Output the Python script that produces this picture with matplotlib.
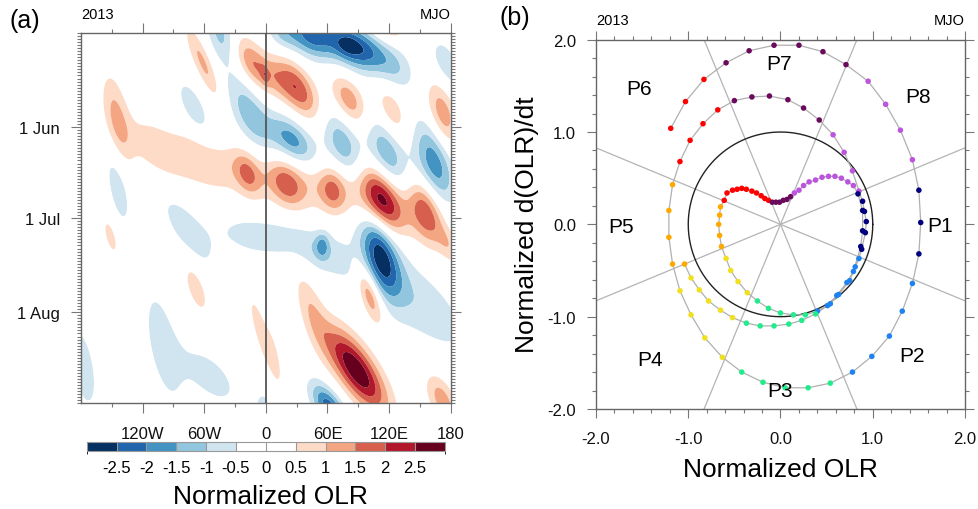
import numpy as np
import matplotlib
matplotlib.use("Agg")
import matplotlib.pyplot as plt
import matplotlib as mpl
from matplotlib.colors import ListedColormap, BoundaryNorm

plt.rcParams['font.family'] = ['Liberation Sans', 'DejaVu Sans']

# ---------------- data: Hovmoller (a) ----------------
# anomaly features: centre lon, centre day (0 = 1 May), amplitude,
# lon width, day width, tilt (days per degree)
blob_lon = [45, 90, 78, 125, 15, -44, -61, -12, 30, -1, 10, 81, 123, 172, 176, 118,
            -70, -15, 26, 75, 118, 164,
            -145, -108, -62, -18, 20, 65, 113, 156, 40,
            -144, -76, -151, -10, 50, 55, 112, 140, 178, -68, -3, 8, 101, 88, 45, 172,
            -100, -55, -178, 63, -3, -184, -184]
blob_day = [1, 5, 4, 11, 0, 0, 10, 10.5, 18, 14, 15, 22, 26, 27, 11, -1,
            25, 27, 35.5, 37, 40, 43,
            29, 38, 42, 46.5, 50, 52, 55, 59, 50,
            50, 65, 67, 67, 72, 70, 73, 86, 70, 84, 100, 106, 86, 111, 92, 121,
            103, 113, 110, 124, 122, 27, 40]
blob_amp = [-2.2, -2.4, -0.6, -0.9, -0.8, -1.2, 1.15, 1.5, 1.95, 0.6, 0.5, 1.35, 0.9, 1.45, -0.85, 0.85,
            -0.8, -1.35, -1.75, -1.4, -1.45, -1.9,
            1.2, 0.75, 0.65, 1.2, 1.25, 1.15, 2.45, 1.9, 0.8,
            -0.8, -0.8, 0.75, -0.8, -0.75, -1.1, -2.35, -0.9, 0.75, 0.8, 0.8, 0.5, 1.7, 3.0, 0.85, 1.3,
            -0.8, -0.75, -0.8, -2.4, -0.9, -0.7, 0.75]
blob_sx = [18, 18, 8, 14, 10, 10, 12, 13, 15, 3, 10, 12, 11, 11, 12, 14,
           13, 16, 16, 14, 14, 14,
           10, 20, 22, 9, 12, 9, 15, 12, 70,
           10, 20, 6, 28, 25, 5, 13, 45, 8, 9, 11, 5, 9, 21, 12, 11,
           14, 22, 11, 13, 4, 5, 5]
blob_sy = [5, 5, 3, 5, 4, 6, 4.5, 5, 5.5, 2, 4, 5, 5.5, 7.5, 6, 3,
           5.5, 7, 5, 6.5, 7, 9,
           9, 6, 6, 4.5, 5, 5, 6.5, 7, 6.5,
           9, 6, 4, 4.5, 5, 3, 8, 9, 4, 5, 5.5, 4, 5, 6.5, 7, 5,
           12, 6, 10, 4.5, 2, 3, 4]
blob_tilt = [0.10, 0.12, 0.1, 0.15, 0.1, 0.3, 0.6, 0.3, 0.28, 0.3, 0.3, 0.25, 0.3, 0.3, 0.3, 0.1,
             0.4, 0.35, 0.2, 0.3, 0.3, 0.3,
             0.55, 0.2, 0.15, 0.2, 0.15, 0.1, 0.25, 0.25, 0.08,
             0.6, 0.35, 0.5, 0.05, 0.15, 0.0, 0.35, 0.25, 0.3, 0.45, 0.85, 0.85, 0.5, 0.34, 0.6, 0.3,
             0.6, 0.2, 0.5, 0.3, 0.0, 0.0, 0.3]

levels = [-99, -2.5, -2, -1.5, -1, -0.5, 0, 0.5, 1, 1.5, 2, 2.5, 99]
fill_colors = ['#053061', '#2166ac', '#4393c3', '#92c5de', '#d1e5f0', '#ffffff',
               '#ffffff', '#fddbc7', '#f4a582', '#d6604d', '#b2182b', '#67001f']
cbar_labels = ['-2.5', '-2', '-1.5', '-1', '-0.5', '0', '0.5', '1', '1.5', '2', '2.5']
lon_ticks = [-120, -60, 0, 60, 120, 180]
lon_labels = ['120W', '60W', '0', '60E', '120E', '180']
lon_minor = [-150, -90, -30, 30, 90, 150]
date_ticks = [31, 61, 92]
date_labels = ['1 Jun', '1 Jul', '1 Aug']
n_days = 122

# ---------------- data: phase diagram (b) ----------------
olr_x = [-1.19, -1.03, -0.83, -0.59, -0.34, -0.07, 0.20, 0.46, 0.71, 0.95, 1.14, 1.30, 1.43, 1.50, 1.52,
         1.50, 1.43, 1.32, 1.18, 0.99, 0.78, 0.54, 0.30, 0.05, -0.19, -0.42, -0.63, -0.82, -0.97, -1.09,
         -1.17, -1.21, -1.21, -1.17, -1.09,
         -0.98, -0.84, -0.68, -0.50, -0.31, -0.12, 0.08, 0.25, 0.42, 0.57, 0.69, 0.78, 0.85,
         0.89, 0.91, 0.93, 0.92, 0.88, 0.85, 0.81, 0.75, 0.63, 0.54, 0.40,
         0.27, 0.14, 0.00, -0.13, -0.25, -0.36, -0.46, -0.54, -0.59, -0.64, -0.66, -0.67, -0.66, -0.65,
         -0.61, -0.58, -0.52, -0.47, -0.42, -0.37, -0.31, -0.26, -0.21, -0.17, -0.13, -0.09, -0.05, -0.01,
         0.03, 0.07, 0.11, 0.15, 0.20, 0.25, 0.31, 0.38, 0.45, 0.52, 0.59, 0.66, 0.73, 0.79,
         0.84, 0.89, 0.89, 0.87, 0.79, 0.72, 0.61, 0.51, 0.38,
         0.23, 0.09, -0.07, -0.22, -0.37, -0.52, -0.65, -0.78, -0.88, -0.97, -1.04]
olr_y = [1.04, 1.33, 1.57, 1.75, 1.88, 1.94, 1.94, 1.87, 1.73, 1.55, 1.30, 1.02, 0.70, 0.37, 0.02,
         -0.32, -0.64, -0.94, -1.21, -1.43, -1.60, -1.72, -1.77, -1.77, -1.71, -1.60, -1.44, -1.23, -0.98, -0.72,
         -0.43, -0.14, 0.15, 0.43, 0.68,
         0.91, 1.09, 1.24, 1.34, 1.38, 1.39, 1.35, 1.26, 1.13, 0.97, 0.78, 0.58, 0.36,
         0.25, 0.14, 0.03, -0.09, -0.27, -0.37, -0.46, -0.61, -0.76, -0.86, -0.94,
         -0.98, -0.98, -0.96, -0.91, -0.83, -0.74, -0.62, -0.50, -0.37, -0.24, -0.12, 0.00, 0.10, 0.19,
         0.26, 0.34, 0.37, 0.38, 0.39, 0.38, 0.36, 0.34, 0.31, 0.28, 0.26, 0.24, 0.24, 0.24,
         0.26, 0.27, 0.30, 0.34, 0.37, 0.42, 0.46, 0.48, 0.51, 0.52, 0.52, 0.50, 0.46, 0.42,
         0.33, 0.15, -0.07, -0.24, -0.51, -0.63, -0.77, -0.88, -0.97,
         -1.04, -1.08, -1.10, -1.10, -1.07, -1.01, -0.93, -0.83, -0.71, -0.58, -0.43]
phase_colors = ['#00007f', '#1e82f0', '#20ec8c', '#f0e020', '#ffa800', '#ff0000', '#6a0a5c', '#bb55dd']
phase_names = ['P1', 'P2', 'P3', 'P4', 'P5', 'P6', 'P7', 'P8']
phase_lab_x = [1.73, 1.43, -0.01, -1.41, -1.73, -1.53, -0.02, 1.49]
phase_lab_y = [-0.01, -1.42, -1.80, -1.46, -0.02, 1.47, 1.74, 1.39]
phase_bounds = [22.5, 67.5, 112.5, 157.5]
pb_ticks = [-2, -1, 0, 1, 2]
pb_labels = ['-2.0', '-1.0', '0.0', '1.0', '2.0']

# ---------------- figure ----------------
fig = plt.figure(figsize=(9.79, 5.10), dpi=100)
W, H = 979.0, 510.0
spine_c = '#666666'
tick_c = '#777777'

# ---- panel (a)
axa = fig.add_axes([81 / W, 1 - 404.3 / H, 369.7 / W, 370.3 / H])
lon = np.linspace(-180, 180, 481)
day = np.linspace(0, n_days, 611)
LL, DD = np.meshgrid(lon, day)
field = np.zeros_like(LL)
for lo, dy, a, sx, sy, t in zip(blob_lon, blob_day, blob_amp, blob_sx, blob_sy, blob_tilt):
    dx = LL - lo
    dd = (DD - dy) - t * dx
    field += a * np.exp(-0.5 * ((dx / sx) ** 2 + (dd / sy) ** 2))
axa.contourf(lon, day, field, levels=levels, colors=fill_colors, antialiased=True)
axa.axvline(0, color='#555555', lw=1.3, zorder=5)
axa.set_xlim(-180, 180)
axa.set_ylim(n_days, 0)
axa.set_xticks(lon_ticks)
axa.set_xticklabels(lon_labels)
axa.set_xticks(lon_minor, minor=True)
axa.set_yticks(date_ticks)
axa.set_yticklabels(date_labels)
axa.set_yticks(np.arange(0, n_days + 1), minor=True)
axa.tick_params(which='both', direction='out', top=True, right=True, color=tick_c, width=0.8,
                labelsize=12, labelcolor='#111111')
axa.tick_params(which='major', length=7.2)
axa.tick_params(which='minor', length=3.2)
axa.tick_params(axis='x', which='major', pad=9.5)
axa.tick_params(axis='y', which='major', pad=8)
for s in axa.spines.values():
    s.set_color(spine_c)
    s.set_linewidth(1.0)
axa.text(0, 1.0 + 12 / 370.3, '2013', transform=axa.transAxes, ha='left', va='bottom', fontsize=10.5)
axa.text(1, 1.0 + 12 / 370.3, 'MJO', transform=axa.transAxes, ha='right', va='bottom', fontsize=10.5)

# colorbar
cax = fig.add_axes([86.7 / W, 1 - 451.7 / H, 358.3 / W, 8.4 / H])
cmap = ListedColormap(fill_colors)
norm = BoundaryNorm(np.arange(len(fill_colors) + 1), len(fill_colors))
cb = mpl.colorbar.ColorbarBase(cax, cmap=cmap, norm=norm, orientation='horizontal',
                               ticks=np.arange(1, len(fill_colors)), drawedges=True)
cb.set_ticklabels(cbar_labels)
cb.outline.set_edgecolor('#999999')
cb.outline.set_linewidth(0.8)
cb.dividers.set_color('#999999')
cb.dividers.set_linewidth(0.8)
cax.tick_params(length=0, labelsize=12, pad=7)
fig.text(270.5 / W, 1 - 497 / H, 'Normalized OLR', ha='center', va='center', fontsize=19)
fig.text(10 / W, 1 - 21 / H, '(a)', ha='left', va='center', fontsize=18)

# ---- panel (b)
axb = fig.add_axes([596 / W, 1 - 410 / H, 369 / W, 369.3 / H])
axb.set_xlim(-2, 2)
axb.set_ylim(-2, 2)
for ang in phase_bounds:
    r = np.array([-3.0, 3.0])
    axb.plot(r * np.cos(np.radians(ang)), r * np.sin(np.radians(ang)),
             color='#b4b4b4', lw=0.9, zorder=1)
th = np.linspace(0, 2 * np.pi, 361)
axb.plot(np.cos(th), np.sin(th), color='#222222', lw=1.0, zorder=2)
x = np.array(olr_x)
y = np.array(olr_y)
axb.plot(x, y, color='#b0b0b0', lw=0.9, zorder=3)
ang = np.degrees(np.arctan2(y, x))
ph = (np.floor(((-ang + 22.5) % 360) / 45).astype(int)) % 8
axb.scatter(x, y, c=[phase_colors[p] for p in ph], s=16, zorder=4, linewidths=0)
for nm, px, py in zip(phase_names, phase_lab_x, phase_lab_y):
    axb.text(px, py, nm, ha='center', va='center', fontsize=15, zorder=5)
axb.set_xticks(pb_ticks)
axb.set_xticklabels(pb_labels)
axb.set_yticks(pb_ticks)
axb.set_yticklabels(pb_labels)
axb.set_xticks(np.arange(-2, 2.01, 0.2), minor=True)
axb.set_yticks(np.arange(-2, 2.01, 0.2), minor=True)
axb.tick_params(which='both', direction='out', top=True, right=True, color=tick_c, width=0.8,
                labelsize=12, labelcolor='#111111')
axb.tick_params(which='major', length=6.7)
axb.tick_params(which='minor', length=3.2)
axb.tick_params(axis='x', which='major', pad=9)
axb.tick_params(axis='y', which='major', pad=7.7)
for s in axb.spines.values():
    s.set_color(spine_c)
    s.set_linewidth(1.0)
axb.text(0, 1.0 + 12.4 / 369.3, '2013', transform=axb.transAxes, ha='left', va='bottom', fontsize=10.5)
axb.text(1, 1.0 + 12.4 / 369.3, 'MJO', transform=axb.transAxes, ha='right', va='bottom', fontsize=10.5)
fig.text(780.8 / W, 1 - 470 / H, 'Normalized OLR', ha='center', va='center', fontsize=19)
fig.text(526.7 / W, 1 - 225 / H, 'Normalized d(OLR)/dt', ha='center', va='center',
         rotation=90, fontsize=19)
fig.text(500 / W, 1 - 18 / H, '(b)', ha='left', va='center', fontsize=18)

fig.savefig('out.png', dpi=100)
